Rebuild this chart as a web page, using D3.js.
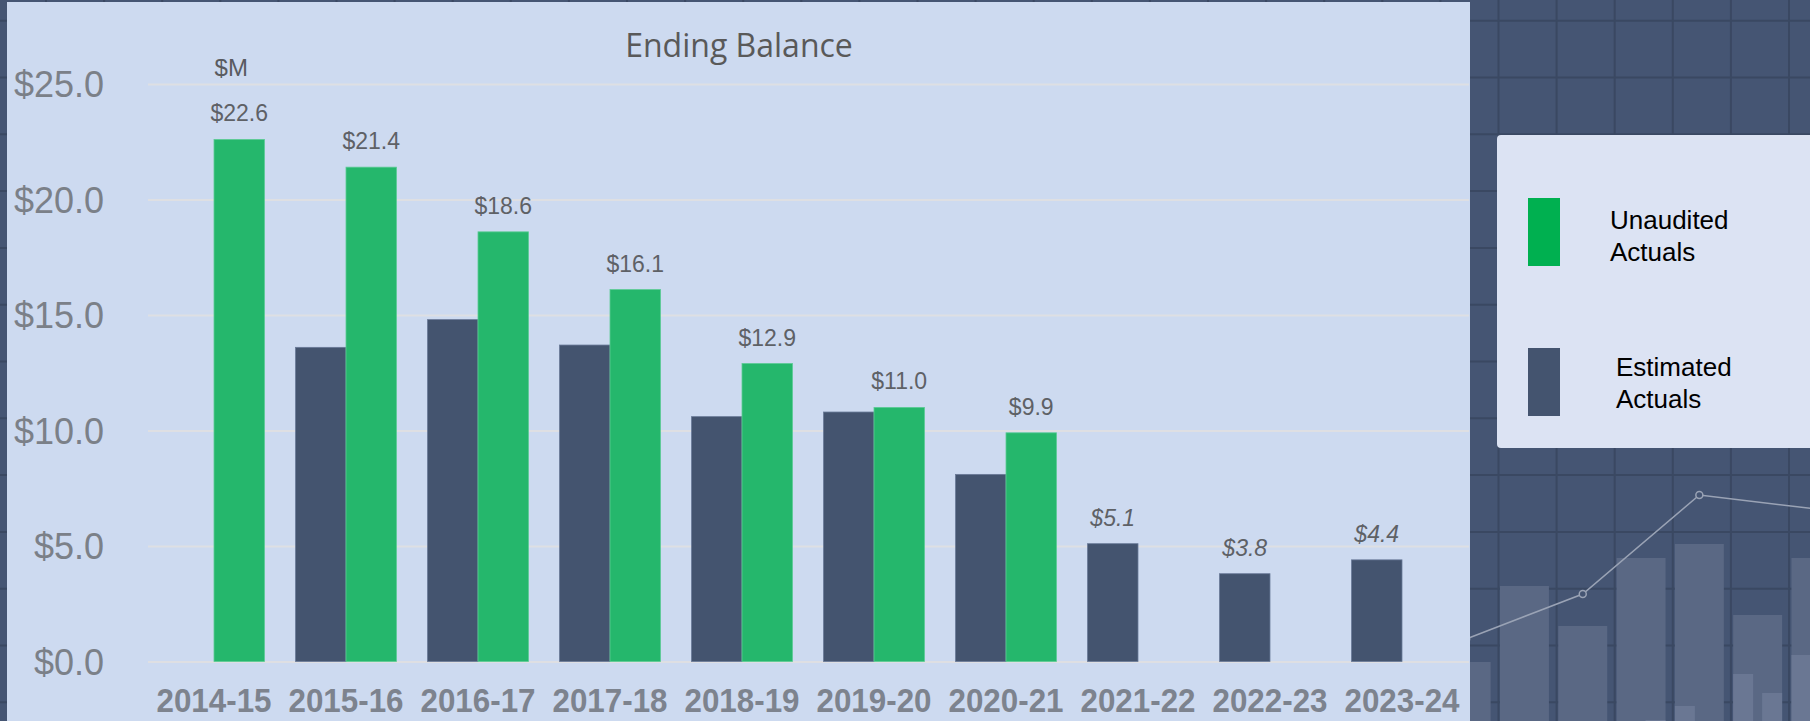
<!DOCTYPE html>
<html>
<head>
<meta charset="utf-8">
<script src="https://cdn.jsdelivr.net/npm/d3@7"></script>
<style>
  html, body { margin: 0; padding: 0; background: #455573; }
  svg { display: block; }
</style>
</head>
<body>
<svg id="chart" width="1810" height="721"></svg>
<script>
// ---------- data ----------
const categories = ["2014-15","2015-16","2016-17","2017-18","2018-19","2019-20","2020-21","2021-22","2022-23","2023-24"];
const unaudited = [22.6, 21.4, 18.6, 16.1, 12.9, 11.0, 9.9, null, null, null];
const estimated = [null, 13.6, 14.8, 13.7, 10.6, 10.8, 8.1, 5.1, 3.8, 4.4];
const seriesKeys = ["Estimated", "Unaudited"];
const legendLabels = [["Unaudited", "Actuals"], ["Estimated", "Actuals"]];
const yTicks = [0, 5, 10, 15, 20, 25];
const titleText = "Ending Balance";
const unitText = "$M";

// decorative background (slide artwork) values
const bgBarValues = [59, 135, 95, 163, 177, 106, 163];
const bgInnerLeft = [0, 0, 0, 0, 15, 47, 66];
const bgInnerRight = [0, 0, 0, 1, 0, 28, 0];
const bgLineValues = [82, null, 127, null, 226, null, 212];

// ---------- layout ----------
const W = 1810, H = 721;
const svg = d3.select("#chart");
const colors = { Unaudited: "#25B76C", Estimated: "#44546F" };
const legendColors = ["#00B050", "#44546F"];

// background grid
const bgGrid = svg.append("g");
bgGrid.append("rect").attr("width", W).attr("height", H).attr("fill", "#455573");
const gx = d3.range(-12.1, W + 60, 58.1);
const gy = d3.range(20.7, H + 60, 56.8);
bgGrid.selectAll("line.v").data(gx).join("line")
  .attr("x1", d => d).attr("x2", d => d).attr("y1", 0).attr("y2", H)
  .attr("stroke", "#3A4862").attr("stroke-width", 2);
bgGrid.selectAll("line.h").data(gy).join("line")
  .attr("y1", d => d).attr("y2", d => d).attr("x1", 0).attr("x2", W)
  .attr("stroke", "#3A4862").attr("stroke-width", 2);

// background bars
const bgX = d3.scaleBand().domain(d3.range(bgBarValues.length)).range([1437, 1437 + 58.3 * 7]).paddingInner(0.16).paddingOuter(0.08);
const bgY = d3.scaleLinear().domain([0, 200]).range([H, H - 200]);
const bgG = svg.append("g");
bgG.selectAll("rect.bb").data(bgBarValues).join("rect")
  .attr("x", (d, i) => bgX(i)).attr("width", bgX.bandwidth())
  .attr("y", d => bgY(d)).attr("height", d => H - bgY(d))
  .attr("fill", "#5A6884");
bgG.selectAll("rect.bl").data(bgInnerLeft).join("rect")
  .attr("x", (d, i) => bgX(i)).attr("width", 20)
  .attr("y", d => bgY(d)).attr("height", d => H - bgY(d))
  .attr("fill", "#6A7793");
bgG.selectAll("rect.br").data(bgInnerRight).join("rect")
  .attr("x", (d, i) => bgX(i) + bgX.bandwidth() - 20).attr("width", 20)
  .attr("y", d => bgY(d)).attr("height", d => H - bgY(d))
  .attr("fill", "#6A7793");
const linePts = bgLineValues.map((v, i) => ({ i, v })).filter(d => d.v != null);
bgG.append("path").datum(linePts)
  .attr("d", d3.line().x(d => bgX(d.i) + bgX.bandwidth() / 2).y(d => bgY(d.v)))
  .attr("fill", "none").attr("stroke", "#9AA3B5").attr("stroke-width", 1.5);
bgG.selectAll("circle").data(linePts).join("circle")
  .attr("cx", d => bgX(d.i) + bgX.bandwidth() / 2).attr("cy", d => bgY(d.v)).attr("r", 3.5)
  .attr("fill", "#455573").attr("stroke", "#9AA3B5").attr("stroke-width", 1.5);

// main panel
svg.append("rect").attr("x", 7).attr("y", 2).attr("width", 1463).attr("height", H)
  .attr("fill", "#CDDAF0");

// scales
const x0 = d3.scaleBand().domain(categories).range([148, 1468]).paddingInner(0.235).paddingOuter(0.1175);
const x1 = d3.scaleBand().domain(seriesKeys).range([0, x0.bandwidth()]);
const y = d3.scaleLinear().domain([0, 25]).range([661.5, 84]);

// gridlines
const grid = svg.append("g").attr("transform", "translate(148,0)")
  .call(d3.axisRight(y).tickValues(yTicks).tickSize(1321).tickFormat(""));
grid.select(".domain").remove();
grid.selectAll(".tick line").attr("stroke", "#DEDFE3").attr("stroke-width", 2);

// y axis labels
const yAxis = svg.append("g").attr("transform", "translate(104,0)")
  .call(d3.axisLeft(y).tickValues(yTicks).tickSize(0).tickPadding(0).tickFormat(d => "$" + d.toFixed(1)));
yAxis.select(".domain").remove();
yAxis.selectAll("text").attr("font-family", "Arial, 'Liberation Sans', sans-serif")
  .attr("font-size", 36).attr("fill", "#7B8088").attr("dy", "0.36em");

// bars
const rows = categories.map((c, i) => ({ cat: c, Estimated: estimated[i], Unaudited: unaudited[i] }));
const groups = svg.append("g").selectAll("g").data(rows).join("g")
  .attr("transform", d => `translate(${x0(d.cat)},0)`);
groups.selectAll("rect").data(d => seriesKeys.filter(k => d[k] != null).map(k => ({ key: k, value: d[k] })))
  .join("rect")
  .attr("x", d => x1(d.key)).attr("width", x1.bandwidth())
  .attr("y", d => y(d.value)).attr("height", d => y(0) - y(d.value))
  .attr("fill", d => colors[d.key])
  .attr("stroke", d => d.key === "Unaudited" ? "#5CCB95" : "#6A7A98").attr("stroke-width", 0.8);

// data labels
const labelData = [];
rows.forEach(r => {
  if (r.Unaudited != null) labelData.push({ cat: r.cat, key: "Unaudited", value: r.Unaudited, italic: false });
  else if (r.Estimated != null) labelData.push({ cat: r.cat, key: "Estimated", value: r.Estimated, italic: true });
});
svg.append("g").selectAll("text").data(labelData).join("text")
  .attr("x", d => x0(d.cat) + x1(d.key) + x1.bandwidth() / 2)
  .attr("y", d => y(d.value) - 18)
  .attr("text-anchor", "middle")
  .attr("font-family", "Arial, 'Liberation Sans', sans-serif")
  .attr("font-size", 23)
  .attr("font-style", d => d.italic ? "italic" : "normal")
  .attr("fill", "#5E6166")
  .text(d => "$" + d.value.toFixed(1));

// unit label
svg.append("text").attr("x", x0(categories[0]) + x1("Unaudited") + x1.bandwidth() / 2 - 8).attr("y", 76)
  .attr("text-anchor", "middle")
  .attr("font-family", "Arial, 'Liberation Sans', sans-serif")
  .attr("font-size", 24).attr("fill", "#595B60").text(unitText);

// x axis labels
const xAxis = svg.append("g").attr("transform", `translate(0,${y(0)})`)
  .call(d3.axisBottom(x0).tickSize(0).tickPadding(0));
xAxis.select(".domain").remove();
xAxis.selectAll("text")
  .attr("dy", null).attr("y", 50.5)
  .attr("font-family", "Arial, 'Liberation Sans', sans-serif")
  .attr("font-weight", "bold").attr("font-size", 34)
  .attr("fill", "#7D838E")
  .attr("textLength", 115).attr("lengthAdjust", "spacingAndGlyphs");

// title
svg.append("text").attr("x", 739).attr("y", 57).attr("text-anchor", "middle")
  .attr("font-family", "'Open Sans', sans-serif").attr("font-size", 32)
  .attr("fill", "#595959").text(titleText);

// legend
const lg = svg.append("g");
lg.append("rect").attr("x", 1497).attr("y", 135).attr("width", 330).attr("height", 313).attr("rx", 4)
  .attr("fill", "#DCE3F3");
const legendRows = [{ y: 198, tx: 1610, ty: 229 }, { y: 348, tx: 1616, ty: 376 }];
legendRows.forEach((r, i) => {
  lg.append("rect").attr("x", 1528).attr("y", r.y).attr("width", 32).attr("height", 68)
    .attr("fill", legendColors[i]);
  const t = lg.append("text").attr("font-family", "Arial, 'Liberation Sans', sans-serif")
    .attr("font-size", 26).attr("fill", "#000");
  legendLabels[i].forEach((s, j) => {
    t.append("tspan").attr("x", r.tx).attr("y", r.ty + j * 32).text(s);
  });
});
</script>
</body>
</html>
